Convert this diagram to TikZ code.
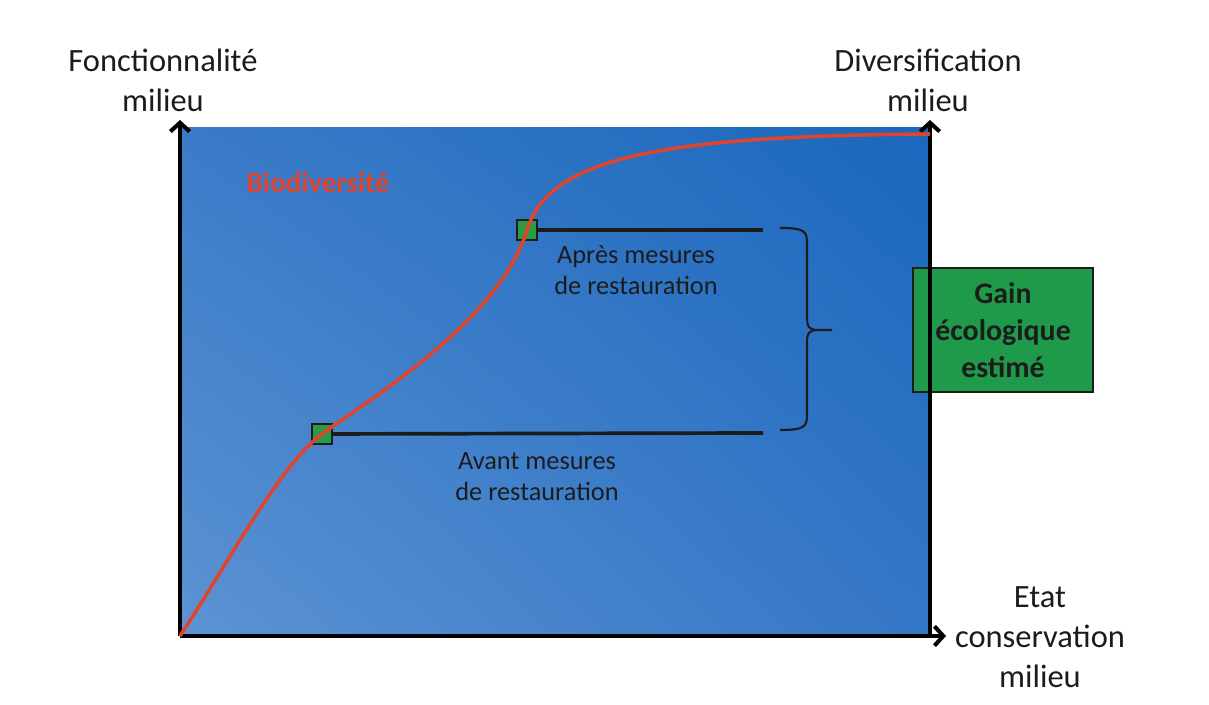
\documentclass[tikz,border=0pt]{standalone}
\usepackage{fontspec}
\setmainfont{Carlito}
\usetikzlibrary{arrows.meta, positioning, shadings}

\definecolor{curvered}{HTML}{E0442B}
\definecolor{markgreen}{HTML}{2B9B48}
\definecolor{boxgreen}{HTML}{1F9A4A}
\definecolor{inkdark}{HTML}{1C1C1C}
\definecolor{bluetl}{HTML}{3A7BC8}
\definecolor{bluetr}{HTML}{1A67BD}
\definecolor{bluebl}{HTML}{5C93D3}
\definecolor{bluebr}{HTML}{3476C6}

\tikzset{
  axis/.style={line width=2.3pt, -{Straight Barb[length=5pt,width=11pt]}},
  level/.style={line width=2.1pt, inkdark},
  marker/.style={draw=inkdark, line width=0.9pt, fill=markgreen, minimum size=11.5pt, inner sep=0pt},
  axislabel/.style={align=center, text=inkdark, font=\fontsize{18.5}{22.7}\selectfont},
  caption/.style={align=center, text=inkdark, font=\fontsize{15}{17.5}\selectfont},
  gainbox/.style={draw=inkdark, line width=0.7pt, fill=boxgreen, minimum width=3.6cm, minimum height=2.48cm,
    align=center, text=inkdark, font=\bfseries\fontsize{17}{21}\selectfont}
}

\begin{document}
\begin{tikzpicture}[x=0.02cm, y=0.02cm]
    \useasboundingbox (0,0) rectangle (1209,705);
    \fill[white] (0,0) rectangle (1209,705);

    % field of the graph
    \shade[upper left=bluetl, upper right=bluetr, lower left=bluebl, lower right=bluebr]
        (180,69) rectangle (930,577);

    \coordinate (origin) at (180,69);
    \coordinate (ytop) at (180,585);
    \coordinate (rbase) at (930,69);
    \coordinate (rtop) at (930,585);
    \coordinate (xend) at (946,69);

    % estimated gain box sits under the right axis
    \node[gainbox] (gain) at (1003,375) {Gain\\écologique\\estimé};

    \draw[axis] (origin) -- (ytop);
    \draw[axis] (rbase) -- (rtop);
    \draw[axis] (origin) -- (xend);

    % levels before / after
    \coordinate (avantpt) at (322,271);
    \coordinate (apprespt) at (527,475);
    \coordinate (avantend) at (763,272);
    \coordinate (apresend) at (763,475);
    \draw[level] (avantpt) -- (avantend);
    \draw[level] (apprespt) -- (apresend);
    \node[marker] (avant) at (avantpt) {};
    \node[marker] (apres) at (apprespt) {};

    % biodiversity curve, over the markers
    \draw[curvered, line width=2pt]
        (origin) .. controls (230,145) and (280,240) .. (avant.center)
                 .. controls (370,306) and (500,385) .. (apres.center)
                 .. controls (549,545) and (650,569) .. (930,571);

    % brace between the two levels
    \coordinate (bracetop) at (780,477);
    \coordinate (bracebot) at (780,275);
    \coordinate (bracetip) at (832,375);
    \draw[inkdark, line width=1.2pt]
        (bracetop) .. controls (804,477) and (807,474) .. (807,462) -- (807,388)
                   .. controls (807,378) and (809,375) .. (818,375) -- (bracetip);
    \draw[inkdark, line width=1.2pt]
        (bracebot) .. controls (804,275) and (807,278) .. (807,290) -- (807,362)
                   .. controls (807,372) and (809,375) .. (818,375);

    \node[caption] (apreslbl) at (636,435) {Après mesures\\de restauration};
    \node[caption] (avantlbl) at (537,228) {Avant mesures\\de restauration};
    \node[text=curvered, font=\bfseries\fontsize{16.5}{20}\selectfont] (biodiv) at (318,523) {Biodiversité};

    % axis titles
    \node[axislabel] (fonct) at (163,625) {Fonctionnalité\\milieu};
    \node[axislabel] (divers) at (928,625) {Diversification\\milieu};
    \node[axislabel] (etat) at (1040,68) {Etat\\conservation\\milieu};
\end{tikzpicture}
\end{document}
